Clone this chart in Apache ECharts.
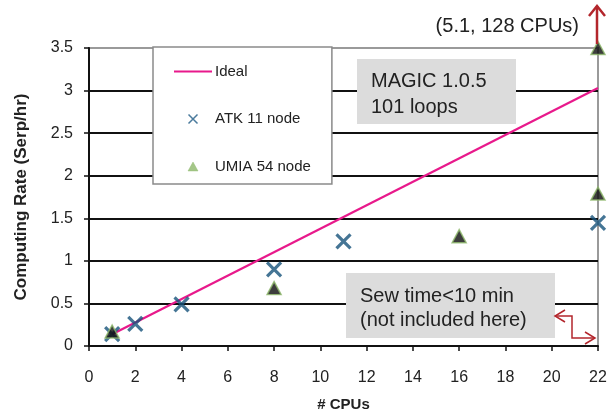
<!DOCTYPE html>
<html>
<head>
<meta charset="utf-8">
<script src="https://cdn.jsdelivr.net/npm/echarts@6/dist/echarts.min.js"></script>
<style>html,body{margin:0;padding:0;background:#fff}#c{width:609px;height:413px}</style>
</head>
<body>
<div id="c"></div>
<script>
const xTicks = [0, 2, 4, 6, 8, 10, 12, 14, 16, 18, 20, 22];
const yTicks = [0, 0.5, 1, 1.5, 2, 2.5, 3, 3.5];
const idealX = [1, 22];
const idealY = [0.138, 3.03];
const atkX = [1, 2, 4, 8, 11, 22];
const atkY = [0.14, 0.26, 0.49, 0.9, 1.23, 1.445];
const umiaX = [1, 8, 16, 22, 22];
const umiaY = [0.17, 0.68, 1.29, 1.79, 3.5];
const seriesNames = ['Ideal', 'ATK 11 node', 'UMIA 54 node'];

const FONT = '"Liberation Sans", Arial, Helvetica, sans-serif';
const RED = '#b3262c';
const zip = (xs, ys) => xs.map((x, i) => [x, ys[i]]);

const chart = echarts.init(document.getElementById('c'), null, {renderer: 'canvas'});
const crossPath = 'path://M0,0L10,10M10,0L0,10';

chart.setOption({
  animation: false,
  backgroundColor: '#fff',
  textStyle: {fontFamily: FONT},
  grid: {left: 89, right: 11, top: 48, bottom: 67, show: true, borderColor: '#9a9a9a', borderWidth: 2,
         containLabel: false, outerBoundsMode: 'none'},
  xAxis: {
    type: 'value', min: xTicks[0], max: xTicks[xTicks.length - 1], interval: 2,
    name: '# CPUs', nameLocation: 'middle', nameGap: 51,
    nameTextStyle: {fontFamily: FONT, fontSize: 15, fontWeight: 'bold', color: '#222'},
    axisLine: {show: true, lineStyle: {color: '#111', width: 2}},
    axisTick: {show: true, length: 5, lineStyle: {color: '#111', width: 1.5}},
    axisLabel: {fontFamily: FONT, fontSize: 16, color: '#222', margin: 24},
    splitLine: {show: false}
  },
  yAxis: {
    type: 'value', min: yTicks[0], max: yTicks[yTicks.length - 1], interval: 0.5,
    name: 'Computing Rate (Serp/hr)', nameLocation: 'middle', nameGap: 59,
    nameTextStyle: {fontFamily: FONT, fontSize: 17, fontWeight: 'bold', color: '#222'},
    axisLine: {show: true, lineStyle: {color: '#111', width: 2}},
    axisTick: {show: true, length: 5, lineStyle: {color: '#111', width: 1.5}},
    axisLabel: {fontFamily: FONT, fontSize: 16, color: '#222', margin: 16},
    splitLine: {show: true, lineStyle: {color: ['#111', '#111', '#111', '#111', '#111', '#111', '#111', '#9a9a9a'], width: 2}}
  },
  legend: {
    left: 153, top: 47, orient: 'vertical',
    backgroundColor: '#fff', borderColor: '#8a8a8a', borderWidth: 1.5,
    padding: [17, 21, 10, 21],
    itemWidth: 38, itemHeight: 9, itemGap: 32.5,
    textStyle: {fontFamily: FONT, fontSize: 15, color: '#222', padding: [0, 0, 0, -2]},
    data: [
      {name: seriesNames[0], icon: 'path://M0,0L38,0L38,2.2L0,2.2Z', itemStyle: {color: '#e8198b', borderWidth: 0}},
      {name: seriesNames[1], itemStyle: {color: 'transparent', borderColor: '#1e5a84', borderWidth: 1.5}},
      {name: seriesNames[2], icon: 'path://M5,0L10,9L0,9Z', itemStyle: {color: '#8db86a', borderColor: '#8db86a', borderWidth: 0.5}}
    ],
    z: 10
  },
  series: [
    {
      name: seriesNames[0], type: 'line', data: zip(idealX, idealY),
      symbol: 'none', lineStyle: {color: '#e8198b', width: 2.2}, itemStyle: {color: '#e8198b'}, z: 3
    },
    {
      name: seriesNames[1], type: 'scatter', data: zip(atkX, atkY),
      symbol: crossPath, symbolSize: 14,
      itemStyle: {color: 'transparent', borderColor: '#17527a', borderWidth: 3.2}, z: 4
    },
    {
      name: seriesNames[2], type: 'scatter', data: zip(umiaX, umiaY),
      symbol: 'triangle', symbolSize: [14, 13],
      itemStyle: {color: '#0d0d0d', borderColor: '#8db86a', borderWidth: 1.5}, z: 5
    }
  ],
  graphic: [
    {type: 'rect', z: 20, shape: {x: 357, y: 59, width: 159, height: 65}, style: {fill: '#dcdcdc'}},
    {type: 'text', z: 21, x: 371, y: 81, style: {text: 'MAGIC 1.0.5', font: '20px ' + FONT, fill: '#222', verticalAlign: 'middle'}},
    {type: 'text', z: 21, x: 371, y: 107, style: {text: '101 loops', font: '20px ' + FONT, fill: '#222', verticalAlign: 'middle'}},
    {type: 'rect', z: 20, shape: {x: 346, y: 273, width: 209, height: 65}, style: {fill: '#dcdcdc'}},
    {type: 'text', z: 21, x: 360, y: 296, style: {text: 'Sew time<10 min', font: '20px ' + FONT, fill: '#222', verticalAlign: 'middle'}},
    {type: 'text', z: 21, x: 360, y: 320, style: {text: '(not included here)', font: '20px ' + FONT, fill: '#222', verticalAlign: 'middle'}},
    {type: 'text', z: 21, x: 579, y: 26, style: {text: '(5.1, 128 CPUs)', font: '20px ' + FONT, fill: '#222', align: 'right', verticalAlign: 'middle'}},
    {type: 'polyline', z: 22, shape: {points: [[597, 44], [597, 6]]}, style: {stroke: RED, lineWidth: 2.5, fill: null}},
    {type: 'polyline', z: 22, shape: {points: [[589, 16], [597, 6], [605, 16]]}, style: {stroke: RED, lineWidth: 2.5, fill: null}},
    {type: 'polyline', z: 22, shape: {points: [[555, 316], [572, 316], [572, 338], [595, 338]]}, style: {stroke: RED, lineWidth: 1.5, fill: null}},
    {type: 'polyline', z: 22, shape: {points: [[565, 310], [555, 316], [565, 322]]}, style: {stroke: RED, lineWidth: 1.5, fill: null}},
    {type: 'polyline', z: 22, shape: {points: [[585, 332], [595, 338], [585, 344]]}, style: {stroke: RED, lineWidth: 1.5, fill: null}}
  ]
});
</script>
</body>
</html>
